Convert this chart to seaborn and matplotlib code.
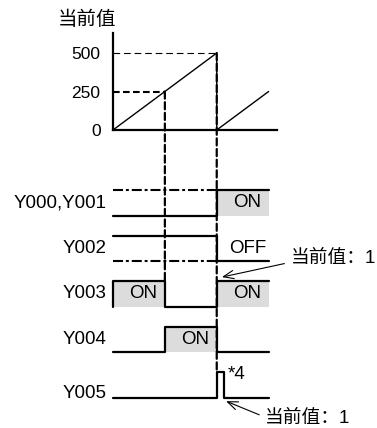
import matplotlib
matplotlib.use("Agg")
import matplotlib.pyplot as plt
from matplotlib.patches import ConnectionPatch
import seaborn as sns
import pandas as pd

# current value ramp (time in arbitrary units, value in counts)
ramp_t = [0, 10, 10, 15]
ramp_v = [0, 500, 0, 250]
guide_t = [5, 10]          # moments where the value hits 250 / 500
guide_v = [250, 500]
value_ticks = [0, 250, 500]

# output signals: step points (time, level 0/1)
signal_names = ["Y000,Y001", "Y002", "Y003", "Y004", "Y005"]
signal_t = [
    [0, 10, 10, 15],
    [0, 10, 10, 15],
    [0, 0, 5, 5, 10, 10, 15],
    [0, 5, 5, 10, 10, 15],
    [0, 10, 10, 10.7, 10.7, 15],
]
signal_lv = [
    [0, 0, 1, 1],
    [1, 1, 0, 0],
    [0, 1, 1, 0, 0, 1, 1],
    [0, 0, 1, 1, 0, 0],
    [0, 0, 1, 1, 0, 0],
]
# undefined state before first reset (signal, level, start, end)
unknown_spans = [("Y000,Y001", 1, 0, 10), ("Y002", 0, 0, 10)]
# shaded state boxes (signal, start, end, text)
state_boxes = [("Y000,Y001", 10, 15, "ON"), ("Y003", 0, 5, "ON"),
               ("Y003", 10, 15, "ON"), ("Y004", 5, 10, "ON")]
state_text = [("Y002", 10, 15, "OFF")]

LEVEL_H = 0.56
GRAY = "#dcdcdc"


def row_y(name, level):
    return -signal_names.index(name) + LEVEL_H * level


sns.set_theme(style="white")
plt.rcParams["font.family"] = ["Liberation Sans", "Noto Sans CJK SC"]
plt.rcParams["text.color"] = "black"

W, H = 377, 428
fig = plt.figure(figsize=(W / 100, H / 100), dpi=100)
fig.patch.set_facecolor("white")

# ---- top chart: current value
ax_top = fig.add_axes([113 / W, (H - 130) / H, 164 / W, 97 / H])
ax_top.set_facecolor("none")
sns.lineplot(x=ramp_t, y=ramp_v, sort=False, estimator=None,
             color="black", lw=1.0, ax=ax_top)
ax_top.hlines(guide_v[1], 0, guide_t[1], colors="black", lw=0.8,
              linestyles=(0, (6, 3.5)))
ax_top.hlines(guide_v[0], 0, guide_t[0], colors="black", lw=1.5,
              linestyles=(0, (3.2, 1.6)))
ax_top.set_xlim(0, 15.81)
ax_top.set_ylim(0, 630)
ax_top.set_xticks([])
ax_top.set_yticks(value_ticks)
ax_top.set_yticklabels([str(v) for v in value_ticks])
ax_top.tick_params(axis="y", length=0, pad=9, labelsize=12.5, labelcolor="black")
for side in ["top", "right"]:
    ax_top.spines[side].set_visible(False)
for side in ["left", "bottom"]:
    ax_top.spines[side].set_linewidth(1.6)
    ax_top.spines[side].set_color("black")
fig.text(87 / W, 1 - 20 / H, "当前值", ha="center", va="center", fontsize=14)

# ---- signal rows
ax_sig = fig.add_axes([113 / W, 7.2 / H, 164 / W, 250.9 / H], sharex=ax_top)
ax_sig.set_facecolor("none")
ax_sig.axis("off")
ax_sig.set_ylim(-4.5, 1.0)

rows = []
for name, ts, lvs in zip(signal_names, signal_t, signal_lv):
    for t, lv in zip(ts, lvs):
        rows.append({"signal": name, "t": t, "y": row_y(name, lv)})
sig_df = pd.DataFrame(rows)

for name, start, end, txt in state_boxes:
    ax_sig.fill_between([start, end], row_y(name, 0), row_y(name, 1),
                        color=GRAY, lw=0, zorder=1, clip_on=False)

sns.lineplot(data=sig_df, x="t", y="y", units="signal", estimator=None,
             sort=False, color="black", lw=1.6, legend=False, ax=ax_sig,
             zorder=3, clip_on=False)

for name, lv, start, end in unknown_spans:
    ax_sig.plot([start, end], [row_y(name, lv)] * 2, color="black", lw=1.5,
                ls=(0, (4.8, 1.4, 1.4, 1.4)), clip_on=False, zorder=3)

for name, start, end, txt in state_boxes + state_text:
    ax_sig.text((start + end) / 2 + 0.45, row_y(name, 0.5), txt,
                ha="center", va="center", fontsize=13.5, zorder=4)

for name in signal_names:
    if name == signal_names[-1]:
        ax_sig.text(-0.62, row_y(name, 0), name, ha="right", va="baseline",
                    fontsize=13.5)
    else:
        ax_sig.text(-0.62, row_y(name, 0.5), name, ha="right", va="center",
                    fontsize=13.5)

# dashed guides linking the value chart to the outputs
for t, v, target in zip(guide_t, guide_v, ["Y003", "Y005"]):
    con = ConnectionPatch(xyA=(t, v), coordsA=ax_top.transData,
                          xyB=(t, row_y(target, 1)), coordsB=ax_sig.transData,
                          color="black", lw=1.6, linestyle=(0, (3.2, 1.6)),
                          zorder=5)
    fig.add_artist(con)

ax_sig.text(11.1, -3.48, "*4", ha="left", va="center", fontsize=13.5)

arrow = dict(arrowstyle="->,head_length=0.55,head_width=0.22", lw=0.8,
             color="black", shrinkA=2, shrinkB=0)
ax_sig.annotate("当前值：1", xy=(10.5, -1.35), xytext=(17.1, -0.95),
                ha="left", va="center", fontsize=13.5, annotation_clip=False,
                arrowprops=dict(arrow, relpos=(0, 0.3)))
ax_sig.annotate("当前值：1", xy=(10.9, -4.07), xytext=(14.66, -4.44),
                ha="left", va="center", fontsize=13.5, annotation_clip=False,
                arrowprops=dict(arrow, relpos=(0, 0.55)))

fig.savefig("out.png", dpi=100, facecolor="white")
